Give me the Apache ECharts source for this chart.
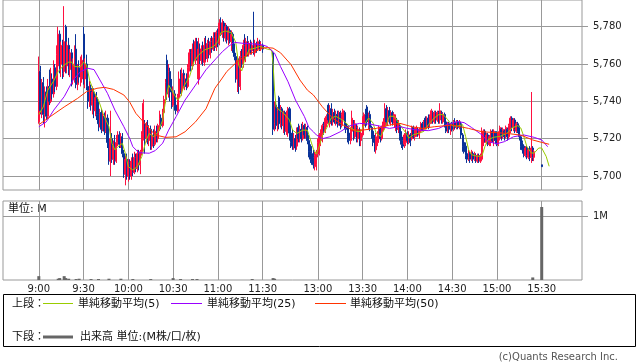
<!DOCTYPE html>
<html><head><meta charset="utf-8">
<script src="https://cdn.jsdelivr.net/npm/echarts@6/dist/echarts.min.js"></script>
<style>html,body{margin:0;padding:0;background:#fff}#c{width:638px;height:362px}</style>
</head><body><div id="c"></div>
<script>
// ---------- data ----------
const tickLabels = ['9:00','9:30','10:00','10:30','11:00','11:30','13:00','13:30','14:00','14:30','15:00','15:30'];
const priceTicks = [5700, 5720, 5740, 5760, 5780];
const volumeTicks = [1];

// one row per minute from 9:00: [open, close, low, high]
const morningOHLC = [
[5729,5756,5728,5764],[5756,5735,5733,5759],[5735,5750,5731,5752],[5750,5733,5728,5753],[5733,5745,5726,5748],
[5745,5732,5730,5748],[5732,5748,5731,5752],[5748,5740,5738,5757],[5740,5752,5739,5758],[5752,5744,5741,5755],
[5744,5758,5742,5762],[5758,5748,5745,5760],[5748,5765,5746,5770],[5759,5776,5757,5780],[5776,5760,5755,5778],
[5760,5770,5753,5772],[5770,5755,5752,5773],[5756,5772,5753,5791],[5780,5759,5755,5781],[5759,5770,5755,5772],
[5770,5757,5754,5774],[5757,5766,5753,5768],[5766,5752,5748,5768],[5752,5760,5749,5763],[5752,5768,5750,5770],
[5768,5749,5747,5776],[5749,5758,5746,5760],[5758,5753,5750,5762],[5753,5760,5748,5764],[5752,5762,5750,5765],
[5776,5752,5749,5780],[5752,5760,5747,5763],[5760,5748,5746,5765],[5748,5740,5736,5751],[5740,5747,5737,5751],
[5747,5738,5735,5749],[5738,5745,5733,5748],[5745,5735,5731,5747],[5735,5742,5732,5744],[5742,5733,5730,5745],
[5733,5728,5724,5740],[5728,5734,5726,5736],[5734,5725,5723,5736],[5725,5732,5724,5735],[5732,5724,5722,5734],
[5724,5731,5723,5735],[5731,5718,5715,5733],[5718,5708,5706,5721],[5708,5720,5700,5735],[5720,5709,5707,5723],
[5709,5716,5706,5719],[5716,5708,5706,5722],[5708,5718,5707,5722],[5718,5722,5716,5724],[5722,5717,5715,5724],
[5717,5721,5715,5723],[5721,5712,5710,5723],[5712,5701,5699,5714],[5701,5709,5695,5711],[5709,5700,5698,5712],
[5700,5707,5697,5709],[5707,5700,5698,5709],[5700,5708,5698,5710],[5708,5702,5700,5712],[5702,5710,5701,5713],
[5710,5704,5702,5712],[5704,5712,5702,5714],[5712,5706,5703,5714],[5706,5713,5701,5714],[5713,5722,5711,5724],
[5722,5739,5719,5741],[5728,5720,5712,5730],[5720,5727,5718,5729],[5727,5719,5717,5730],[5719,5725,5716,5727],
[5725,5716,5714,5727],[5716,5722,5714,5724],[5722,5717,5715,5725],[5717,5724,5716,5727],[5724,5720,5718,5727],
[5720,5727,5718,5728],[5727,5731,5724,5735],[5731,5727,5725,5733],[5727,5734,5726,5736],[5734,5741,5732,5743],
[5741,5750,5739,5752],[5762,5744,5741,5765],[5744,5756,5742,5760],[5756,5745,5740,5758],[5745,5738,5736,5752],
[5738,5744,5737,5748],[5744,5738,5735,5746],[5738,5735,5733,5743],[5735,5742,5734,5744],[5742,5752,5740,5756],
[5752,5746,5744,5757],[5746,5755,5743,5758],[5755,5748,5747,5757],[5748,5752,5746,5754],[5752,5748,5746,5755],
[5748,5758,5747,5760],[5758,5766,5756,5768],[5766,5759,5756,5768],[5759,5768,5757,5771],[5768,5762,5760,5773],
[5762,5772,5760,5774],[5772,5764,5762,5774],[5752,5768,5749,5774],[5768,5762,5760,5771],[5762,5768,5760,5770],
[5768,5761,5759,5772],[5761,5770,5759,5774],[5770,5763,5762,5775],[5763,5771,5761,5773],[5771,5765,5763,5774],
[5765,5772,5763,5774],[5772,5768,5766,5775],[5768,5774,5767,5777],[5774,5769,5767,5777],[5769,5777,5767,5778],
[5777,5771,5769,5779],[5771,5782,5770,5784],[5782,5776,5775,5785],[5776,5782,5774,5784],[5782,5774,5772,5783],
[5774,5780,5772,5782],[5780,5773,5771,5781],[5773,5778,5770,5780],[5778,5772,5771,5779],[5772,5776,5767,5778],
[5776,5768,5766,5777],[5768,5764,5762,5771],[5764,5752,5750,5766],[5752,5762,5745,5764],[5762,5748,5744,5763],
[5748,5764,5746,5767],[5764,5760,5758,5768],[5760,5770,5758,5773],[5770,5764,5762,5776],[5764,5772,5761,5774],
[5772,5766,5764,5775],[5766,5771,5764,5772],[5771,5767,5765,5773],[5767,5770,5765,5772],[5770,5766,5765,5788],
[5766,5771,5764,5773],[5771,5768,5766,5772],[5768,5772,5767,5774],[5772,5768,5767,5773],[5768,5770,5767,5772],
[5770,5768,5766,5771]
];
// one row per minute from 12:30: [open, close, low, high]
const afternoonOHLC = [
[5766,5725,5722,5767],[5728,5738,5724,5740],[5738,5727,5725,5741],[5727,5735,5724,5737],[5742,5728,5725,5743],
[5728,5736,5726,5738],[5736,5727,5725,5737],[5727,5734,5723,5735],[5734,5724,5722,5735],[5724,5733,5722,5735],
[5726,5736,5721,5737],[5736,5723,5719,5737],[5723,5718,5715,5727],[5720,5716,5714,5725],[5716,5720,5714,5723],
[5720,5715,5713,5722],[5716,5724,5714,5726],[5726,5720,5718,5728],[5720,5725,5718,5727],[5725,5720,5718,5728],
[5720,5727,5719,5729],[5727,5722,5720,5728],[5722,5726,5720,5728],[5726,5719,5717,5727],[5719,5713,5710,5722],
[5713,5709,5707,5717],[5712,5708,5706,5716],[5710,5706,5704,5714],[5705,5711,5703,5713],[5706,5712,5703,5714],
[5712,5718,5710,5720],[5712,5722,5711,5723],[5719,5723,5716,5725],[5720,5727,5718,5728],[5727,5724,5722,5729],
[5724,5731,5723,5732],[5728,5732,5726,5733],[5738,5730,5728,5739],[5728,5736,5726,5738],[5736,5729,5727,5739],
[5729,5734,5727,5736],[5734,5729,5728,5736],[5729,5733,5727,5735],[5733,5728,5726,5735],[5728,5734,5727,5735],
[5734,5727,5725,5735],[5727,5733,5726,5734],[5730,5735,5728,5736],[5734,5728,5725,5735],[5728,5725,5723,5730],
[5726,5721,5718,5727],[5723,5719,5717,5725],[5719,5724,5717,5726],[5724,5731,5722,5735],[5728,5721,5719,5730],
[5721,5728,5720,5730],[5726,5720,5718,5728],[5720,5725,5718,5727],[5724,5719,5716,5726],[5719,5723,5716,5725],
[5722,5730,5721,5732],[5727,5733,5725,5734],[5733,5728,5726,5736],[5737,5729,5727,5738],[5727,5732,5725,5734],
[5733,5726,5724,5735],[5726,5722,5720,5727],[5724,5718,5716,5726],[5720,5716,5713,5722],[5714,5721,5712,5723],
[5718,5723,5716,5724],[5720,5726,5718,5727],[5725,5720,5718,5726],[5720,5726,5719,5727],[5726,5729,5724,5731],
[5727,5736,5725,5739],[5736,5729,5727,5738],[5729,5735,5727,5737],[5735,5730,5728,5737],[5729,5733,5727,5735],
[5734,5729,5727,5735],[5730,5733,5728,5734],[5726,5731,5724,5733],[5730,5725,5723,5731],[5725,5728,5723,5730],
[5727,5721,5719,5728],[5722,5717,5715,5724],[5719,5716,5714,5721],[5717,5722,5715,5723],[5718,5723,5716,5725],
[5723,5719,5717,5724],[5718,5722,5717,5724],[5722,5718,5716,5723],[5720,5726,5719,5727],[5726,5721,5720,5727],
[5721,5725,5719,5726],[5722,5726,5721,5727],[5725,5722,5721,5726],[5722,5725,5720,5726],[5724,5728,5723,5729],
[5728,5725,5724,5729],[5725,5729,5724,5730],[5731,5726,5725,5732],[5726,5731,5725,5732],[5731,5727,5725,5733],
[5728,5732,5726,5733],[5729,5735,5728,5736],[5734,5730,5728,5735],[5729,5734,5728,5735],[5734,5730,5728,5735],
[5730,5734,5729,5735],[5734,5730,5728,5735],[5730,5735,5728,5739],[5734,5729,5728,5735],[5729,5733,5728,5734],
[5733,5728,5726,5734],[5729,5724,5723,5730],[5724,5728,5723,5729],[5728,5725,5723,5729],[5724,5727,5722,5728],
[5728,5725,5724,5729],[5725,5729,5724,5730],[5729,5726,5725,5731],[5726,5729,5725,5730],[5729,5726,5725,5730],
[5726,5729,5725,5730],[5728,5722,5720,5729],[5722,5716,5713,5723],[5718,5713,5712,5720],[5716,5711,5709,5718],
[5712,5709,5707,5714],[5710,5712,5708,5714],[5712,5709,5707,5713],[5709,5713,5708,5714],[5712,5709,5707,5713],
[5709,5712,5708,5713],[5711,5708,5707,5712],[5708,5711,5707,5712],[5711,5708,5707,5712],[5708,5711,5707,5712],
[5709,5724,5708,5726],[5718,5724,5716,5725],[5724,5720,5718,5725],[5718,5722,5717,5723],[5722,5717,5716,5723],
[5717,5721,5716,5722],[5718,5724,5716,5725],[5724,5719,5718,5725],[5719,5724,5716,5725],[5723,5719,5717,5724],
[5722,5717,5716,5724],[5717,5723,5716,5724],[5720,5726,5719,5727],[5725,5721,5719,5726],[5721,5725,5720,5726],
[5724,5721,5719,5725],[5721,5726,5720,5727],[5725,5721,5719,5726],[5721,5727,5720,5728],[5724,5731,5723,5732],
[5731,5726,5724,5732],[5726,5730,5724,5731],[5730,5725,5723,5731],[5724,5728,5723,5729],[5728,5724,5723,5729],
[5726,5721,5719,5727],[5721,5716,5714,5722],[5718,5714,5712,5719],[5716,5711,5710,5717],[5711,5715,5710,5716],
[5715,5711,5709,5716],[5710,5714,5709,5715],[5714,5710,5708,5716],[5710,5715,5707,5745],[5715,5710,5708,5716],
[5710,5713,5708,5714]
];
const closingTime = '15:30';
const closingOHLC = [5706, 5705, 5705, 5706];

const ma5 = [
['9:00',5733],['9:03',5737],['9:06',5746],['9:10',5751],['9:13',5756],['9:17',5759.5],['9:20',5761],['9:22',5761],
['9:24',5758.6],['9:28',5758.6],['9:30',5761],['9:32',5759.5],['9:34',5751.4],['9:37',5745],['9:40',5740.7],
['9:43',5733.6],['9:47',5726.4],['9:49',5717.5],['9:51',5714],['9:53',5715.7],['9:56',5717.5],['9:58',5712],
['10:00',5705],['10:03',5703.2],['10:06',5705],['10:09',5710.4],['10:12',5719.3],['10:14',5722.8],['10:17',5721],
['10:20',5723.7],['10:23',5730],['10:25',5740.7],['10:27',5748.7],['10:29',5746],['10:33',5740.7],['10:35',5742.5],
['10:37',5747.8],['10:41',5753.2],['10:44',5761.3],['10:47',5764.8],['10:51',5767.5],['10:54',5768.4],['10:57',5769.3],
['11:00',5772],['11:02',5776.8],['11:05',5777.7],['11:09',5776.8],['11:12',5771.6],['11:14',5759],['11:16',5756.3],
['11:18',5762.5],['11:21',5767.8],['11:25',5768.5],['11:28',5769.4],['11:30',5769],['11:33',5768],['11:36',5767.5],
['12:30',5760],['12:31',5745.5],['12:32',5737.2],['12:34',5735.4],['12:36',5734.5],['12:38',5732.7],['12:41',5730],
['12:43',5724.6],['12:46',5722.8],['12:50',5724.6],['12:53',5724.5],['12:57',5714.5],['12:59',5711.7],['13:01',5716.1],
['13:03',5721.6],['13:06',5725.9],['13:09',5731.1],['13:12',5732],['13:16',5730.2],['13:19',5728.4],['13:22',5725.7],
['13:26',5723.9],['13:29',5723.9],['13:31',5727.5],['13:34',5731.1],['13:37',5728.4],['13:39',5723],['13:42',5721.2],
['13:45',5725.7],['13:48',5732],['13:51',5732],['13:55',5727.5],['13:59',5723],['14:01',5720.3],['14:04',5722.1],
['14:08',5723],['14:11',5723.9],['14:14',5727.5],['14:18',5731.1],['14:21',5732.9],['14:24',5732.9],['14:27',5730.2],
['14:30',5727],['14:33',5726.6],['14:37',5727.5],['14:39',5721.2],['14:41',5714.1],['14:43',5711.4],['14:47',5710.5],
['14:50',5710.9],['14:52',5715.9],['14:54',5719.5],['14:58',5720.8],['15:02',5721.2],['15:07',5723],['15:10',5725.7],
['15:14',5727],['15:16',5725.7],['15:18',5721.2],['15:20',5715.9],['15:23',5712.3],['15:25',5712.3],['15:28',5715],
['15:30',5715],['15:33',5710.5],['15:35',5705.2]
];
const ma25 = [
['9:00',5726.4],['9:05',5729],['9:10',5735.3],['9:17',5742.5],['9:23',5751.4],['9:28',5756],['9:33',5757.7],['9:37',5757],
['9:41',5751.4],['9:46',5744.3],['9:51',5735.3],['9:57',5726.4],['10:01',5720],['10:03',5715.7],['10:07',5712.5],
['10:14',5712.2],['10:18',5713.6],['10:23',5717.6],['10:27',5724.6],['10:32',5731.8],['10:38',5740.7],['10:45',5748.7],
['10:52',5756.9],['10:59',5763.1],['11:03',5766.6],['11:07',5769.4],['11:11',5771.6],['11:18',5771],['11:25',5770.7],
['11:30',5770.2],['11:33',5769.4],['12:31',5765.8],['12:35',5758.6],['12:40',5750.5],['12:45',5740.7],['12:51',5731.8],
['12:54',5726],['12:57',5723.7],['12:59',5722],['13:03',5720],['13:08',5721],['13:15',5723.7],['13:21',5726.8],
['13:28',5728.2],['13:35',5727.8],['13:41',5726.8],['13:48',5725.5],['13:55',5726.5],['14:00',5725.5],['14:07',5724.6],
['14:14',5724.3],['14:21',5725.5],['14:27',5727.8],['14:34',5729.1],['14:38',5728.6],['14:43',5726],['14:50',5722],
['14:54',5718.4],['15:00',5717.3],['15:05',5718.4],['15:11',5721],['15:18',5722],['15:25',5720.7],['15:30',5719.3],
['15:34',5715.7]
];
const ma50 = [
['9:00',5727.5],['9:08',5732],['9:17',5737],['9:26',5741.6],['9:32',5745.2],['9:39',5747],['9:44',5747.5],['9:50',5746.4],
['9:57',5743.4],['10:01',5739.5],['10:05',5733.6],['10:12',5727.3],['10:18',5722],['10:25',5720.7],['10:32',5721],
['10:38',5723.7],['10:45',5729],['10:52',5736],['10:58',5747],['11:02',5751.4],['11:06',5756],['11:13',5761.3],
['11:20',5765],['11:27',5767.5],['11:30',5768.5],['11:33',5768.8],['12:30',5768.5],['12:35',5766],['12:42',5759.7],
['12:48',5751.4],['12:53',5746],['12:57',5743.4],['13:03',5737.1],['13:08',5732.7],['13:10',5730.9],['13:17',5727.3],
['13:23',5724.6],['13:30',5724.6],['13:39',5725.5],['13:48',5727.3],['13:55',5728.2],['14:03',5726.4],['14:10',5725.5],
['14:18',5726.4],['14:30',5727.3],['14:41',5725.5],['14:50',5723.7],['15:00',5723.2],['15:07',5722.8],['15:16',5721.9],
['15:24',5719.3],['15:30',5718],['15:35',5717]
];
// volume in millions
const volume = [
['9:00',0.06],['9:13',0.02],['9:14',0.03],['9:17',0.06],['9:18',0.03],['9:20',0.02],['9:25',0.015],['9:27',0.02],
['9:35',0.015],['9:40',0.015],['9:47',0.02],['9:55',0.02],['10:03',0.015],['10:15',0.015],['10:30',0.03],['10:35',0.015],
['10:43',0.015],['10:46',0.015],['11:23',0.015],['12:30',0.03],['12:31',0.02],['15:24',0.04],['15:30',1.14]
];

// ---------- axis categories (one slot per minute) ----------
function fmt(t){ return Math.floor(t/60) + ':' + String(t % 60).padStart(2, '0'); }
const slots = [[8*60+36, 11*60+36], [12*60+30, 15*60+57]];
const cats = [];
slots.forEach(([a,b]) => { for (let t = a; t <= b; t++) cats.push(fmt(t)); });
const catIndex = {}; cats.forEach((c,i) => catIndex[c] = i);

const candle = cats.map(() => '-');
morningOHLC.forEach((r,i) => { candle[catIndex[fmt(9*60+i)]] = r; });
afternoonOHLC.forEach((r,i) => { candle[catIndex[fmt(12*60+30+i)]] = r; });
candle[catIndex[closingTime]] = closingOHLC;

const isTick = (idx) => tickLabels.indexOf(cats[idx]) >= 0;
const GRID = '#999';
const FONT = '"DejaVu Sans", "Noto Sans CJK JP", sans-serif';

const chart = echarts.init(document.getElementById('c'));
const xCommon = {
  type: 'category', data: cats, boundaryGap: false,
  axisLine: {show: false}, axisTick: {show: false},
  splitLine: {show: true, interval: (i) => isTick(i), lineStyle: {color: GRID, width: 1}}
};
chart.setOption({
  animation: false,
  backgroundColor: '#fff',
  textStyle: {fontFamily: FONT},
  grid: [
    {left: 3, top: 0, width: 579, height: 190, show: true, borderColor: GRID, borderWidth: 1, backgroundColor: '#fff'},
    {left: 3, top: 201, width: 579, height: 79, show: true, borderColor: GRID, borderWidth: 1, backgroundColor: '#fff'}
  ],
  xAxis: [
    Object.assign({}, xCommon, {gridIndex: 0, axisLabel: {show: false}}),
    Object.assign({}, xCommon, {gridIndex: 1, axisLabel: {show: true, interval: (i) => isTick(i), fontSize: 10, color: '#222', margin: 4, fontFamily: FONT}})
  ],
  yAxis: [
    {type: 'value', gridIndex: 0, position: 'right', min: 5692.5, max: 5794.3, splitNumber: 5,
     axisLine: {show: false},
     axisTick: {show: true, length: 6, customValues: priceTicks, lineStyle: {color: GRID}},
     axisLabel: {margin: 11, fontSize: 10, color: '#222', fontFamily: FONT,
       customValues: priceTicks,
       formatter: v => (Math.abs(v % 20) < 1e-6 ? Number(v).toLocaleString('en-US') : '')},
     splitLine: {show: true, lineStyle: {color: GRID, width: 1}}},
    {type: 'value', gridIndex: 1, position: 'right', min: 0, max: 1.234, interval: 1,
     axisLine: {show: false},
     axisTick: {show: true, length: 6, customValues: volumeTicks, lineStyle: {color: GRID}},
     axisLabel: {margin: 11, fontSize: 10, color: '#222', fontFamily: FONT,
       customValues: volumeTicks, formatter: v => (v === 1 ? '1M' : '')},
     splitLine: {show: true, lineStyle: {color: GRID, width: 1}}}
  ],
  series: [
    {type: 'candlestick', xAxisIndex: 0, yAxisIndex: 0, data: candle, barWidth: 1.6,
     itemStyle: {color: '#ff1040', color0: '#0a3399', borderColor: '#ff1040', borderColor0: '#0a3399', borderWidth: 1}},
    {type: 'line', xAxisIndex: 0, yAxisIndex: 0, data: ma5, showSymbol: false, symbol: 'none', lineStyle: {color: '#99cc00', width: 1}, z: 5},
    {type: 'line', xAxisIndex: 0, yAxisIndex: 0, data: ma25, showSymbol: false, symbol: 'none', lineStyle: {color: '#9900ff', width: 1}, z: 5},
    {type: 'line', xAxisIndex: 0, yAxisIndex: 0, data: ma50, showSymbol: false, symbol: 'none', lineStyle: {color: '#ff3300', width: 1}, z: 5},
    {type: 'bar', xAxisIndex: 1, yAxisIndex: 1, data: volume, barWidth: 3, itemStyle: {color: '#666'}}
  ],
  graphic: {elements: [
    {type: 'text', left: 8, top: 204, style: {text: '単位: M', font: '11px ' + FONT, fill: '#111'}},
    {type: 'rect', shape: {x: 3.5, y: 294.5, width: 632, height: 52}, style: {fill: '#fff', stroke: '#000', lineWidth: 1}},
    {type: 'text', x: 12, y: 304, style: {text: '上段：', font: '11px ' + FONT, fill: '#111', verticalAlign: 'middle'}},
    {type: 'line', shape: {x1: 43, y1: 303.5, x2: 73, y2: 303.5}, style: {stroke: '#99cc00', lineWidth: 1}},
    {type: 'text', x: 78, y: 304, style: {text: '単純移動平均(5)', font: '11px ' + FONT, fill: '#111', verticalAlign: 'middle'}},
    {type: 'line', shape: {x1: 171, y1: 303.5, x2: 202, y2: 303.5}, style: {stroke: '#9900ff', lineWidth: 1}},
    {type: 'text', x: 207, y: 304, style: {text: '単純移動平均(25)', font: '11px ' + FONT, fill: '#111', verticalAlign: 'middle'}},
    {type: 'line', shape: {x1: 315, y1: 303.5, x2: 346, y2: 303.5}, style: {stroke: '#ff3300', lineWidth: 1}},
    {type: 'text', x: 350, y: 304, style: {text: '単純移動平均(50)', font: '11px ' + FONT, fill: '#111', verticalAlign: 'middle'}},
    {type: 'text', x: 12, y: 337, style: {text: '下段：', font: '11px ' + FONT, fill: '#111', verticalAlign: 'middle'}},
    {type: 'line', shape: {x1: 43, y1: 337, x2: 73, y2: 337}, style: {stroke: '#666', lineWidth: 3}},
    {type: 'text', x: 80, y: 337, style: {text: '出来高 単位:(M株/口/枚)', font: '11px ' + FONT, fill: '#111', verticalAlign: 'middle'}},
    {type: 'text', x: 618, y: 357, style: {text: '(c)Quants Research Inc.', font: '10px ' + FONT, fill: '#555', align: 'right', verticalAlign: 'middle'}}
  ]}
});
</script></body></html>
